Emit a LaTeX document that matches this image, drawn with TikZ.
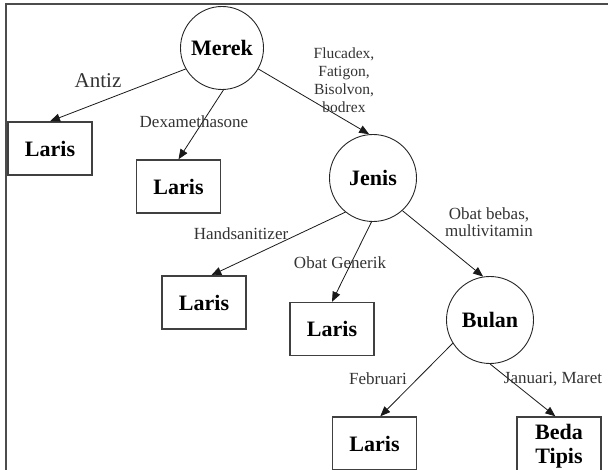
\documentclass[tikz,border=0pt]{standalone}
\usepackage{fontspec}
\setmainfont{Liberation Serif}
\usetikzlibrary{arrows.meta}
\begin{document}
\begin{tikzpicture}[x=1pt,y=-1pt,
  circ/.style={circle,draw=black!85,line width=0.9pt,minimum size=#1,inner sep=0pt,font=\fontsize{22}{24}\selectfont\bfseries},
  leaf/.style={rectangle,draw=black!75,line width=1.4pt,minimum width=84pt,minimum height=53pt,inner sep=0pt,align=center,font=\fontsize{22}{24}\selectfont\bfseries},
  lbl/.style={inner sep=0pt,text=black!80,font=\fontsize{17}{16.5}\selectfont,align=center},
  edge/.style={draw=black!90,line width=0.8pt,-{Triangle[length=10pt,width=8pt]}}]
\useasboundingbox (0,0) rectangle (608,470);
\draw[line width=2pt,black!70] (6,475) -- (6,4.5) -- (612,4.5);
% nodes
\node[circ=83pt] (merek) at (222,48) {Merek};
\node[circ=87pt] (jenis) at (373,178) {Jenis};
\node[circ=87pt] (bulan) at (490,320) {Bulan};
\node[leaf] (laris1) at (50,148.5) {Laris};
\node[leaf] (laris2) at (178.5,186.5) {Laris};
\node[leaf] (laris3) at (204,302.5) {Laris};
\node[leaf] (laris4) at (332,329) {Laris};
\node[leaf] (laris5) at (374.5,443.5) {Laris};
\node[leaf,minimum height=58pt] (beda) at (559,446) {Beda\\Tipis};
% edges
\draw[edge] (merek.210) -- (laris1.north);
\draw[edge] (merek.-88) -- (laris2.north);
\draw[edge] (merek.-30) -- (jenis.95);
\draw[edge] (jenis.231) -- (laris3.75);
\draw[edge] (jenis.-92) -- (laris4.north);
\draw[edge] (jenis.-48) -- (bulan.99);
\draw[edge] (bulan.212) -- (laris5.78);
\draw[edge] (bulan.-90) -- (beda.97);
% labels
\node[lbl,font=\fontsize{21}{22}\selectfont] (l1) at (98,81) {Antiz};
\node[lbl] (l2) at (194,122) {Dexamethasone};
\node[lbl,font=\fontsize{15.5}{18}\selectfont] (l3) at (344,80) {Flucadex,\\Fatigon,\\Bisolvon,\\bodrex};
\node[lbl] (l4) at (489,222) {Obat bebas,\\multivitamin};
\node[lbl] (l5) at (241,234) {Handsanitizer};
\node[lbl] (l6) at (340,263) {Obat Generik};
\node[lbl] (l7) at (378,379) {Februari};
\node[lbl] (l8) at (553,379) {Januari, Maret};
\end{tikzpicture}
\end{document}
